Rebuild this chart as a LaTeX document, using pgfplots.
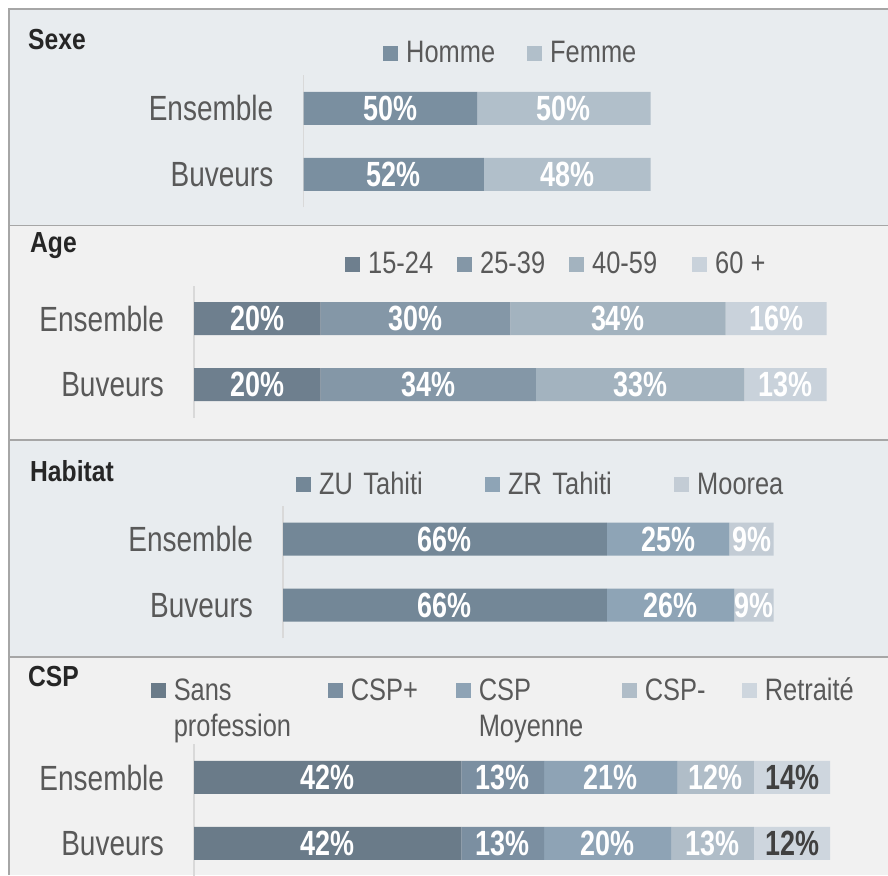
\documentclass[border=0pt]{standalone}
\usepackage{fontspec}
\setmainfont{Liberation Sans}[FakeStretch=0.85]
\newfontfamily\valfam{Liberation Sans}[FakeStretch=0.77]
\newfontfamily\catfam{Liberation Sans}[FakeStretch=0.8]
\newfontfamily\legfam{Liberation Sans}[FakeStretch=0.82]
\usepackage{pgfplots}
\pgfplotsset{compat=1.18}
\definecolor{bgA}{HTML}{E8ECEF}
\definecolor{bgB}{HTML}{F1F1F1}
\definecolor{frame}{HTML}{A6A6A6}
\definecolor{axl}{HTML}{D9D9D9}
\definecolor{txt}{HTML}{595959}
\definecolor{dark}{HTML}{404040}
\definecolor{sxH}{HTML}{7A8FA0}
\definecolor{sxF}{HTML}{B1BFCA}
\definecolor{agA}{HTML}{6E7F8E}
\definecolor{agB}{HTML}{8497A7}
\definecolor{agC}{HTML}{A3B3BF}
\definecolor{agD}{HTML}{C9D2DB}
\definecolor{haA}{HTML}{738797}
\definecolor{haB}{HTML}{8EA4B6}
\definecolor{haC}{HTML}{C3CCD5}
\definecolor{csA}{HTML}{6A7B89}
\definecolor{csB}{HTML}{7B8FA1}
\definecolor{csC}{HTML}{8EA3B5}
\definecolor{csD}{HTML}{B0BDC8}
\definecolor{csE}{HTML}{CED6DE}
\newcommand\catfont{\catfam\fontsize{35}{38}\selectfont}
\newcommand\legfont{\legfam\fontsize{31}{36}\selectfont}
\newcommand\valfont{\valfam\bfseries\fontsize{35}{36}\selectfont}
\newcommand\titfont{\bfseries\fontsize{29}{30}\selectfont}
\pgfplotsset{
  sqleg/.style={legend image code/.code={\fill[##1] (0pt,2pt) rectangle (15pt,17pt);}},
  panel/.style={
    scale only axis, height=132pt, anchor=north west,
    xbar stacked, bar width=0.5,
    xmin=0, xmax=100, ymin=-0.5, ymax=1.5,
    axis x line*=bottom, axis y line*=left,
    x axis line style={draw=none},
    y axis line style={draw=axl, line width=1.5pt},
    xtick=\empty, ytick={0,1}, yticklabels={Buveurs,Ensemble},
    major tick length=0pt,
    yticklabel style={font=\catfont, text=txt, inner sep=0pt, anchor=east, xshift=-30pt},
    every axis plot post/.append style={sqleg},
    nodes near coords, point meta=explicit symbolic,
    every node near coord/.append style={font=\valfont, text=white},
    legend columns=-1,
    legend style={draw=none, fill=none, inner sep=0pt, anchor=west,
      nodes={inner sep=0pt, text height=19pt, text depth=0pt, font=\legfont, text=txt, align=left},
      cells={anchor=base west},
      /tikz/every odd column/.append style={column sep=8pt}},
    clip=false,
  },
}
\begin{document}
\begin{tikzpicture}
\useasboundingbox (0pt,0pt) rectangle (888pt,875pt);
\fill[white] (0pt,0pt) rectangle (888pt,875pt);
\fill[bgA] (9pt,649.5pt) rectangle (888pt,866pt);
\fill[bgB] (9pt,435pt) rectangle (888pt,649.5pt);
\fill[bgA] (9pt,218pt) rectangle (888pt,435pt);
\fill[bgB] (9pt,0pt) rectangle (888pt,218pt);
\draw[frame, line width=1.5pt] (9pt,0pt) -- (9pt,866pt) -- (888pt,866pt);
\draw[frame, line width=1.5pt] (9pt,649.5pt) -- (888pt,649.5pt);
\draw[frame, line width=1.5pt] (9pt,435pt) -- (888pt,435pt);
\draw[frame, line width=1.5pt] (9pt,218pt) -- (888pt,218pt);
\node[anchor=base west, inner sep=0pt, font=\titfont, text=black!85] at (28pt,825pt) {Sexe};
\node[anchor=base west, inner sep=0pt, font=\titfont, text=black!85] at (30pt,622pt) {Age};
\node[anchor=base west, inner sep=0pt, font=\titfont, text=black!85] at (30pt,393.5pt) {Habitat};
\node[anchor=base west, inner sep=0pt, font=\titfont, text=black!85] at (28pt,188.5pt) {CSP};

% Sexe
\begin{axis}[panel, at={(303.5pt,799.5pt)}, width=347pt,
  legend style={at={(axis description cs:0.2291,1.1667)}}]
\addplot[fill=sxH, draw=none] coordinates {(50,1) [50\%] (52,0) [52\%]};
\addlegendentry[text width=121pt]{Homme}
\addplot[fill=sxF, draw=none] coordinates {(50,1) [50\%] (48,0) [48\%]};
\addlegendentry{Femme}
\end{axis}

% Age
\begin{axis}[panel, at={(194.2pt,589.4pt)}, width=632.5pt,
  legend style={at={(axis description cs:0.2384,1.160)}}]
\addplot[fill=agA, draw=none] coordinates {(20,1) [20\%] (20,0) [20\%]};
\addlegendentry[text width=89pt]{15-24}
\addplot[fill=agB, draw=none] coordinates {(30,1) [30\%] (34,0) [34\%]};
\addlegendentry[text width=89pt]{25-39}
\addplot[fill=agC, draw=none] coordinates {(34,1) [34\%] (33,0) [33\%]};
\addlegendentry[text width=100pt]{40-59}
\addplot[fill=agD, draw=none] coordinates {(16,1) [16\%] (13,0) [13\%]};
\addlegendentry{60 +}
\end{axis}

% Habitat
\begin{axis}[panel, at={(283.1pt,368.8pt)}, width=490.5pt,
  legend style={at={(axis description cs:0.0263,1.163)}}]
\addplot[fill=haA, draw=none] coordinates {(66,1) [66\%] (66,0) [66\%]};
\addlegendentry[text width=166pt]{ZU Tahiti}
\addplot[fill=haB, draw=none] coordinates {(25,1) [25\%] (26,0) [26\%]};
\addlegendentry[text width=166pt]{ZR Tahiti}
\addplot[fill=haC, draw=none] coordinates {(9,1) [9\%] (8,0) [9\%]};
\addlegendentry{Moorea}
\end{axis}

% CSP
\begin{axis}[panel, at={(194.2pt,130.5pt)}, width=636pt,
  legend style={at={(axis description cs:-0.0686,1.4076)}}]
\addplot[fill=csA, draw=none] coordinates {(42,1) [42\%] (42,0) [42\%]};
\addlegendentry[text width=154pt]{Sans\\profession}
\addplot[fill=csB, draw=none] coordinates {(13,1) [13\%] (13,0) [13\%]};
\addlegendentry[text width=105pt]{CSP+}
\addplot[fill=csC, draw=none] coordinates {(21,1) [21\%] (20,0) [20\%]};
\addlegendentry[text width=143pt]{CSP\\Moyenne}
\addplot[fill=csD, draw=none] coordinates {(12,1) [12\%] (13,0) [13\%]};
\addlegendentry[text width=97pt]{CSP-}
\addplot[fill=csE, draw=none, every node near coord/.append style={text=dark}] coordinates {(12,1) [14\%] (12,0) [12\%]};
\addlegendentry{Retraité}
\end{axis}
\end{tikzpicture}
\end{document}
